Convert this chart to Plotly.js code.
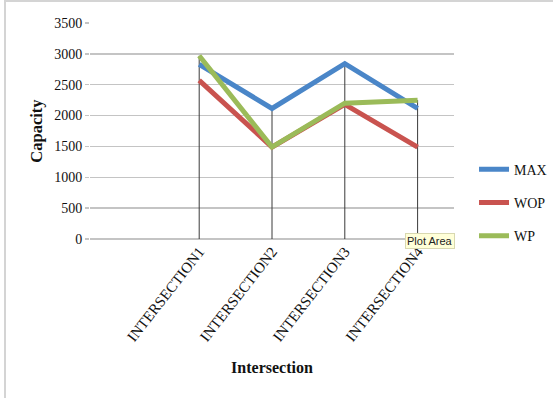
<!DOCTYPE html>
<html>
<head>
<meta charset="utf-8">
<script src="https://cdn.plot.ly/plotly-3.0.1.min.js"></script>
<style>
html,body{margin:0;padding:0;background:#fff;}
#frame{position:absolute;left:4px;top:0;width:560px;height:400px;border-left:2px solid #d4d4d4;border-top:2px solid #d4d4d4;box-sizing:border-box;pointer-events:none;z-index:5;}
#chart{position:absolute;left:0;top:0;width:553px;height:398px;}
</style>
</head>
<body>
<div id="chart"></div>
<div id="frame"></div>
<script>
var categories = ["INTERSECTION1", "INTERSECTION2", "INTERSECTION3", "INTERSECTION4"];
var maxValues = [2830, 2115, 2840, 2115];
var wopValues = [2570, 1490, 2180, 1490];
var wpValues = [2970, 1490, 2200, 2250];
var seriesNames = ["MAX", "WOP", "WP"];
var seriesColors = ["#4a86c8", "#c9534f", "#9bbb59"];
var yTicks = [0, 500, 1000, 1500, 2000, 2500, 3000, 3500];

var serif = "Liberation Serif, DejaVu Serif, serif";

// drop lines from highest value of each category to the axis
var dropX = [], dropY = [];
categories.forEach(function (c, i) {
  var top = Math.max(maxValues[i], wopValues[i], wpValues[i]);
  dropX.push(c, c, null);
  dropY.push(0, top, null);
});

var data = [
  {x: dropX, y: dropY, mode: "lines", line: {color: "#3a3a3a", width: 1}, showlegend: false, hoverinfo: "skip"}
];
[maxValues, wopValues, wpValues].forEach(function (vals, k) {
  data.push({
    x: categories, y: vals, name: seriesNames[k], mode: "lines",
    line: {color: seriesColors[k], width: 5, shape: "linear"},
    legendgroup: "g" + k
  });
});

var layout = {
  width: 553, height: 398,
  margin: {l: 90, r: 99, t: 23, b: 159, autoexpand: false},
  paper_bgcolor: "#ffffff", plot_bgcolor: "#ffffff",
  font: {family: serif, color: "#111"},
  xaxis: {
    type: "category", categoryarray: categories, range: [-1.5, 3.5],
    showgrid: false, zeroline: false, showline: false,
    ticks: "", tickangle: -52,
    tickfont: {family: serif, size: 15, color: "#111"},
    title: {text: "Intersection", font: {family: serif, size: 16, color: "#111", weight: "bold"}, standoff: 18}
  },
  yaxis: {
    range: [0, 3500], tickvals: yTicks, ticktext: yTicks.map(String),
    showgrid: true, gridcolor: "#c4c4c4", gridwidth: 1.5,
    zeroline: true, zerolinecolor: "#c4c4c4", zerolinewidth: 1.5,
    showline: false, ticks: "outside", ticklen: 4, tickcolor: "#c4c4c4", tickwidth: 1.5,
    tickfont: {family: serif, size: 14, color: "#111"},
    title: {text: "Capacity", font: {family: serif, size: 16.5, color: "#111", weight: "bold"}, standoff: 7}
  },
  legend: {
    x: 1.055, y: 0.395, xanchor: "left", yanchor: "top",
    font: {family: serif, size: 14, color: "#111"},
    tracegroupgap: 12, itemwidth: 30, bgcolor: "rgba(0,0,0,0)"
  },
  annotations: [{
    text: "Plot Area", xref: "paper", yref: "paper", x: 0.865, y: 0.028,
    xanchor: "left", yanchor: "top", showarrow: false,
    font: {family: "Liberation Sans, Arial, sans-serif", size: 11, color: "#222"},
    bgcolor: "#ffffd8", bordercolor: "#d8d8b0", borderwidth: 1, borderpad: 1
  }],
  showlegend: true
};

Plotly.newPlot("chart", data, layout, {displayModeBar: false, staticPlot: true});
</script>
</body>
</html>
